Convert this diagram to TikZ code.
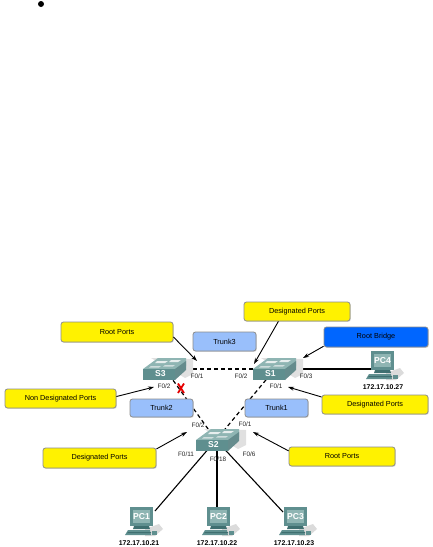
\documentclass[tikz,border=0pt]{standalone}
\usepackage{fontspec}
\setmainfont{Liberation Sans}
\usetikzlibrary{calc,arrows.meta,shadows}
\definecolor{teal1}{HTML}{5F8F8F}
\definecolor{teal2}{HTML}{8FB5B3}
\definecolor{teal3}{HTML}{3F6F70}
\definecolor{tk}{HTML}{99BFFB}
\definecolor{rbb}{HTML}{0066FF}
\tikzset{
  lab/.style={draw=black!45,line width=.8pt,rounded corners=2.5pt,inner sep=0pt,font=\fontsize{7.3}{8}\selectfont,text=black,
     drop shadow={shadow xshift=.8pt,shadow yshift=-.8pt,fill=black!25,opacity=.6}},
  yel/.style={lab,fill=yellow},
  blu/.style={lab,fill=rbb},
  trk/.style={lab,fill=tk},
  port/.style={font=\fontsize{6.4}{7}\selectfont,inner sep=0pt,text=black!85},
  ip/.style={font=\bfseries\fontsize{6.9}{8}\selectfont,inner sep=0pt},
  dev/.style={inner sep=0pt,minimum width=#1,minimum height=20pt},
  ptr/.style={-{Stealth[length=6pt,width=4pt]},line width=.9pt},
  dsh/.style={line width=1.2pt,dash pattern=on 4pt off 3pt},
  sol/.style={line width=1.1pt},
}
\newcommand{\swt}[4]{% name x y label
  \begin{scope}[shift={(#2,#3)}]
    \fill[black!12] (-14,-12) -- (28,-11) -- (28,4) -- (20,8) -- cycle;
    \fill[teal2] (-22,-1) -- (-7,-12) -- (21,-12) -- (21,-4) -- (10,4) -- (-22,4) -- cycle;
    \fill[teal3!80] (10,-1) -- (21,-9) -- (21,0) -- (10,10) -- cycle;
    \fill[teal1] (-22,-1) -- (10,-1) -- (10,10) -- (-22,10) -- cycle;
    \fill[white!85!teal1] (-8,-9) -- (3,-9) -- (0,-7) -- (-10,-7) -- cycle;
    \fill[white!85!teal1] (6,-10) -- (16,-10) -- (13,-8) -- (4,-8) -- cycle;
    \fill[white!70!teal1] (-14,-4) -- (-4,-4) -- (-6,-2.5) -- (-16,-2.5) -- cycle;
    \fill[white!70!teal1] (0,-5) -- (10,-5) -- (8,-3.5) -- (-2,-3.5) -- cycle;
    \node[dev=44pt,font=\bfseries\fontsize{8}{9}\selectfont,text=white] (#1) at (0,0) {};
    \node[font=\bfseries\fontsize{8.6}{9}\selectfont,text=white,inner sep=0pt] (#1t) at (-4.5,3.5) {#4};
  \end{scope}}
\newcommand{\pcn}[4]{% name x y label
  \begin{scope}[shift={(#2,#3)}]
    \fill[black!14] (4,8) -- (18,3) -- (22,8) -- (14,15) -- (4,15) -- cycle;
    \node[dev=32pt,minimum height=29pt] (#1) at (0,0) {};
    \fill[teal1] (-11,-14) -- (12,-14) -- (12,5) -- (-11,5) -- cycle;
    \fill[teal2] (-8,-11) -- (9,-11) -- (9,2) -- (-8,2) -- cycle;
    \fill[teal3] (-7,5) -- (8,5) -- (9,8) -- (-8,8) -- cycle;
    \fill[teal1] (-13,9) -- (9,9) -- (10,14) -- (-16,14) -- cycle;
    \fill[teal3] (-13,11) -- (10,11) -- (10,12) -- (-14,12) -- cycle;
    \fill[teal1] (11,10) -- (16,10) -- (16,14) -- (11,14) -- cycle;
    \node[font=\bfseries\fontsize{8.6}{9}\selectfont,text=white,inner sep=0pt] (#1t) at (.5,-4.5) {#4};
  \end{scope}}
\begin{document}
\begin{tikzpicture}[x=1pt,y=-1pt]
\useasboundingbox (0,0) rectangle (432,547);
\fill[black] (41,4) circle (3);
% free ends
\coordinate (a1) at (197,361);
\coordinate (a2) at (154,387);
\coordinate (a3) at (254,364);
\coordinate (a4) at (303,358);
\coordinate (a5) at (288,387);
\coordinate (a6) at (187,432);
\coordinate (a7) at (253,432);
% anchors for devices (connectors drawn first, devices on top)
\coordinate (s3c) at (165,369);
\coordinate (s1c) at (275,369);
\coordinate (s2c) at (216,440);
\coordinate (p1c) at (155,511);
\coordinate (p2c) at (217,510);
\coordinate (p3c) at (283,512);
\coordinate (p4c) at (380,369);
% connectors
\draw[dsh] (s3c) -- (s1c);
\draw[dsh] (s3c) -- (s2c);
\draw[dsh] (s1c) -- (s2c);
\draw[sol] (s1c) -- (p4c);
\draw[sol] (s2c) -- (p1c);
\draw[sol] (s2c -| p2c) -- (p2c);
\draw[sol] (s2c) -- (p3c);
% devices
\swt{s3}{165}{370}{S3}
\swt{s1}{275}{370}{S1}
\swt{s2}{218}{441}{S2}
\pcn{pc1}{141}{521}{PC1}
\pcn{pc2}{218}{521}{PC2}
\pcn{pc3}{295}{521}{PC3}
\pcn{pc4}{382}{365}{PC4}
% labels
\node[yel,minimum width=112pt,minimum height=20pt] (rp1) at (117,332) {Root Ports};
\node[yel,minimum width=111pt,minimum height=19pt] (nd) at (60.5,398.5) {Non Designated Ports};
\node[yel,minimum width=106pt,minimum height=19pt] (dp1) at (297,311.5) {Designated Ports};
\node[blu,minimum width=104pt,minimum height=20pt] (rb) at (376,337) {Root Bridge};
\node[yel,minimum width=106pt,minimum height=19pt] (dp2) at (375,404.5) {Designated Ports};
\node[yel,minimum width=113pt,minimum height=20pt] (dp3) at (99.5,458) {Designated Ports};
\node[yel,minimum width=106pt,minimum height=19pt] (rp2) at (342,456.5) {Root Ports};
\node[trk,minimum width=63pt,minimum height=19pt] (t3) at (224.5,341.5) {Trunk3};
\node[trk,minimum width=63pt,minimum height=18pt] (t2) at (161.5,408) {Trunk2};
\node[trk,minimum width=63pt,minimum height=18pt] (t1) at (276.5,408) {Trunk1};
% arrows
\draw[ptr] (rp1.-5) -- (a1);
\draw[ptr] (nd.2) -- (a2);
\draw[ptr] (dp1.-152) -- (a3);
\draw[ptr] (rb.190) -- (a4);
\draw[ptr] (dp2.172) -- (a5);
\draw[ptr] (dp3.9) -- (a6);
\draw[ptr] (rp2.174) -- (a7);
% port labels
\node[port] (l1) at (197,376) {F0/1};
\node[port] (l2) at (164,386) {F0/2};
\node[port] (l3) at (241,376) {F0/2};
\node[port] (l4) at (306,376) {F0/3};
\node[port] (l5) at (276,386) {F0/1};
\node[port] (l6) at (198,425) {F0/2};
\node[port] (l7) at (245,424.5) {F0/1};
\node[port] (l8) at (186,454) {F0/11};
\node[port] (l9) at (218,459) {F0/18};
\node[port] (l10) at (249,454) {F0/6};
% addresses
\node[ip] (i4) at (383,387) {172.17.10.27};
\node[ip] (i1) at (139,543.5) {172.17.10.21};
\node[ip] (i2) at (217,543.5) {172.17.10.22};
\node[ip] (i3) at (294,543.5) {172.17.10.23};
% blocked port
\draw[red!90!black,line width=1.8pt] (178,383.5) -- (184,393) (184,383.5) -- (178,393);
\end{tikzpicture}
\end{document}
